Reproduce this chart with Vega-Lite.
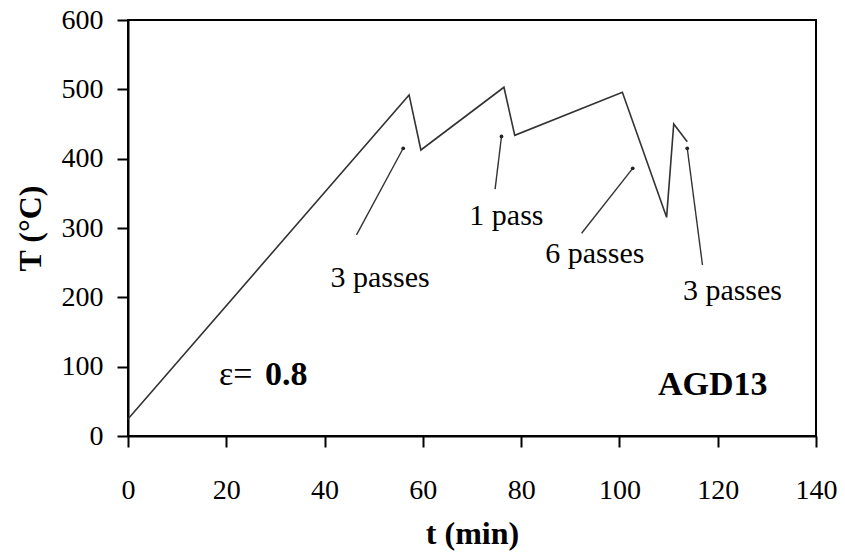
{
  "$schema": "https://vega.github.io/schema/vega-lite/v6.json",
  "width": 688,
  "height": 416,
  "autosize": {"type": "none"},
  "padding": {"left": 128, "top": 20, "right": 29, "bottom": 123},
  "background": "white",
  "config": {
    "view": {"stroke": "black", "strokeWidth": 2},
    "font": "Times New Roman, Liberation Serif, serif",
    "axis": {
      "grid": false,
      "domainColor": "black",
      "domainWidth": 2,
      "tickColor": "black",
      "tickWidth": 2,
      "tickSize": 11,
      "labelFlush": false,
      "labelOverlap": false,
      "labelBound": false,
      "labelFont": "Times New Roman, Liberation Serif, serif",
      "labelFontSize": 28,
      "labelColor": "black",
      "titleFont": "Times New Roman, Liberation Serif, serif",
      "titleFontSize": 32,
      "titleFontWeight": "bold",
      "titleColor": "black"
    }
  },
  "layer": [
    {
      "data": {"values": [
        {"t": 0, "T": 24.5},
        {"t": 57.2, "T": 492},
        {"t": 59.6, "T": 412.5},
        {"t": 76.5, "T": 503},
        {"t": 78.7, "T": 433.7},
        {"t": 100.6, "T": 495.7},
        {"t": 109.6, "T": 315.4},
        {"t": 111.05, "T": 450},
        {"t": 113.8, "T": 424.5}
      ]},
      "mark": {"type": "line", "color": "#333333", "strokeWidth": 1.6},
      "encoding": {
        "x": {"field": "t", "type": "quantitative",
          "scale": {"domain": [0, 140], "nice": false},
          "axis": {"values": [0, 20, 40, 60, 80, 100, 120, 140], "title": "t (min)",
            "labelBaseline": "alphabetic", "labelPadding": 51,
            "titleBaseline": "alphabetic", "titleY": 107}},
        "y": {"field": "T", "type": "quantitative",
          "scale": {"domain": [0, 600], "nice": false},
          "axis": {"values": [0, 100, 200, 300, 400, 500, 600], "title": "T (°C)",
            "labelPadding": 14,
            "titleBaseline": "alphabetic", "titleX": -88}}
      }
    },
    {
      "data": {"values": [
        {"t": 46.5, "T": 290, "t2": 56.0, "T2": 415},
        {"t": 74.7, "T": 356, "t2": 76.0, "T2": 432},
        {"t": 92.3, "T": 292.4, "t2": 102.7, "T2": 386},
        {"t": 116.9, "T": 246.6, "t2": 113.8, "T2": 415}
      ]},
      "layer": [
        {
          "mark": {"type": "rule", "color": "#333333", "strokeWidth": 1.4},
          "encoding": {
            "x": {"field": "t", "type": "quantitative"},
            "y": {"field": "T", "type": "quantitative"},
            "x2": {"field": "t2"},
            "y2": {"field": "T2"}
          }
        },
        {
          "mark": {"type": "point", "shape": "circle", "filled": true, "color": "#222222", "size": 14, "opacity": 1},
          "encoding": {
            "x": {"field": "t2", "type": "quantitative"},
            "y": {"field": "T2", "type": "quantitative"}
          }
        }
      ]
    },
    {
      "data": {"values": [
        {"t": 51.3, "T": 215, "label": "3 passes"},
        {"t": 77.0, "T": 304, "label": "1 pass"},
        {"t": 95.0, "T": 249.5, "label": "6 passes"},
        {"t": 123.0, "T": 196, "label": "3 passes"}
      ]},
      "mark": {"type": "text", "font": "Times New Roman, Liberation Serif, serif", "fontSize": 30, "color": "black", "baseline": "alphabetic", "align": "center"},
      "encoding": {
        "x": {"field": "t", "type": "quantitative"},
        "y": {"field": "T", "type": "quantitative"},
        "text": {"field": "label"}
      }
    },
    {
      "data": {"values": [
        {"t": 21.9, "T": 73.6, "label": "ε="}
      ]},
      "mark": {"type": "text", "font": "Times New Roman, Liberation Serif, serif", "fontSize": 34, "color": "black", "baseline": "alphabetic", "align": "center"},
      "encoding": {
        "x": {"field": "t", "type": "quantitative"},
        "y": {"field": "T", "type": "quantitative"},
        "text": {"field": "label"}
      }
    },
    {
      "data": {"values": [
        {"t": 32.2, "T": 73.6, "label": "0.8"},
        {"t": 119.0, "T": 59, "label": "AGD13"}
      ]},
      "mark": {"type": "text", "font": "Times New Roman, Liberation Serif, serif", "fontSize": 34, "fontWeight": "bold", "color": "black", "baseline": "alphabetic", "align": "center"},
      "encoding": {
        "x": {"field": "t", "type": "quantitative"},
        "y": {"field": "T", "type": "quantitative"},
        "text": {"field": "label"}
      }
    }
  ]
}
